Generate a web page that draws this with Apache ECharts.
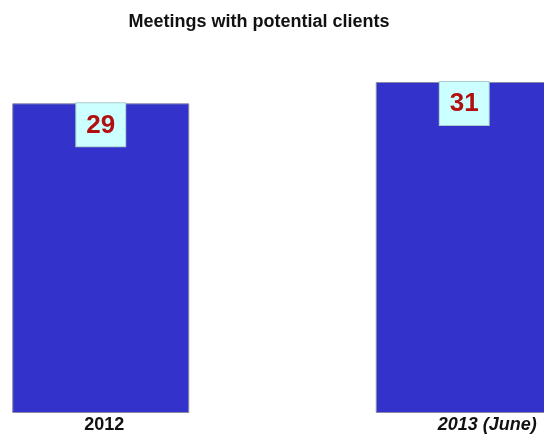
<!DOCTYPE html>
<html>
<head>
<meta charset="utf-8">
<script src="https://cdn.jsdelivr.net/npm/echarts@6/dist/echarts.min.js"></script>
<style>
  html, body { margin: 0; padding: 0; background: #ffffff; }
  #chart { width: 544px; height: 434px; }
</style>
</head>
<body>
<div id="chart"></div>
<script>
// Meetings held per period
const categories = ['2012', '2013 (June)'];
const meetings = [29, 31];

const chart = echarts.init(document.getElementById('chart'));

chart.setOption({
  backgroundColor: '#ffffff',
  animation: false,
  title: {
    text: 'Meetings with potential clients',
    left: 254,
    top: 8,
    textAlign: 'center',
    textStyle: {
      fontFamily: 'Liberation Sans, Arial, sans-serif',
      fontSize: 18,
      fontWeight: 'bold',
      color: '#111111'
    }
  },
  grid: { left: -81, right: -102, top: 82, bottom: 21, outerBoundsMode: 'none', containLabel: false },
  xAxis: {
    type: 'category',
    data: categories,
    axisLine: { show: false },
    axisTick: { show: false },
    axisLabel: {
      margin: 3,
      formatter: function (v, i) {
        return i === 0 ? '{a|' + v + '}' : '{b|' + v + '}';
      },
      rich: {
        a: {
          fontFamily: 'Liberation Sans, Arial, sans-serif',
          fontSize: 18,
          fontWeight: 'bold',
          color: '#111111',
          padding: [0, 0, 0, 7]
        },
        b: {
          fontFamily: 'Liberation Sans, Arial, sans-serif',
          fontSize: 18,
          fontWeight: 'bold',
          fontStyle: 'italic',
          color: '#111111',
          padding: [0, 0, 0, 46]
        }
      }
    }
  },
  yAxis: {
    type: 'value',
    min: 0,
    max: 31,
    show: false,
    splitLine: { show: false }
  },
  series: [{
    type: 'bar',
    data: meetings,
    barWidth: 177,
    itemStyle: {
      color: '#3333cc',
      borderColor: '#8a8aa8',
      borderWidth: 1
    },
    label: {
      show: true,
      position: 'insideTop',
      distance: 0,
      fontFamily: 'Liberation Sans, Arial, sans-serif',
      fontSize: 26,
      fontWeight: 'bold',
      color: '#b01010',
      backgroundColor: '#ccffff',
      borderColor: '#aacccc',
      borderWidth: 1,
      padding: [9, 10, 8, 10],
      lineHeight: 26
    }
  }]
});
</script>
</body>
</html>
